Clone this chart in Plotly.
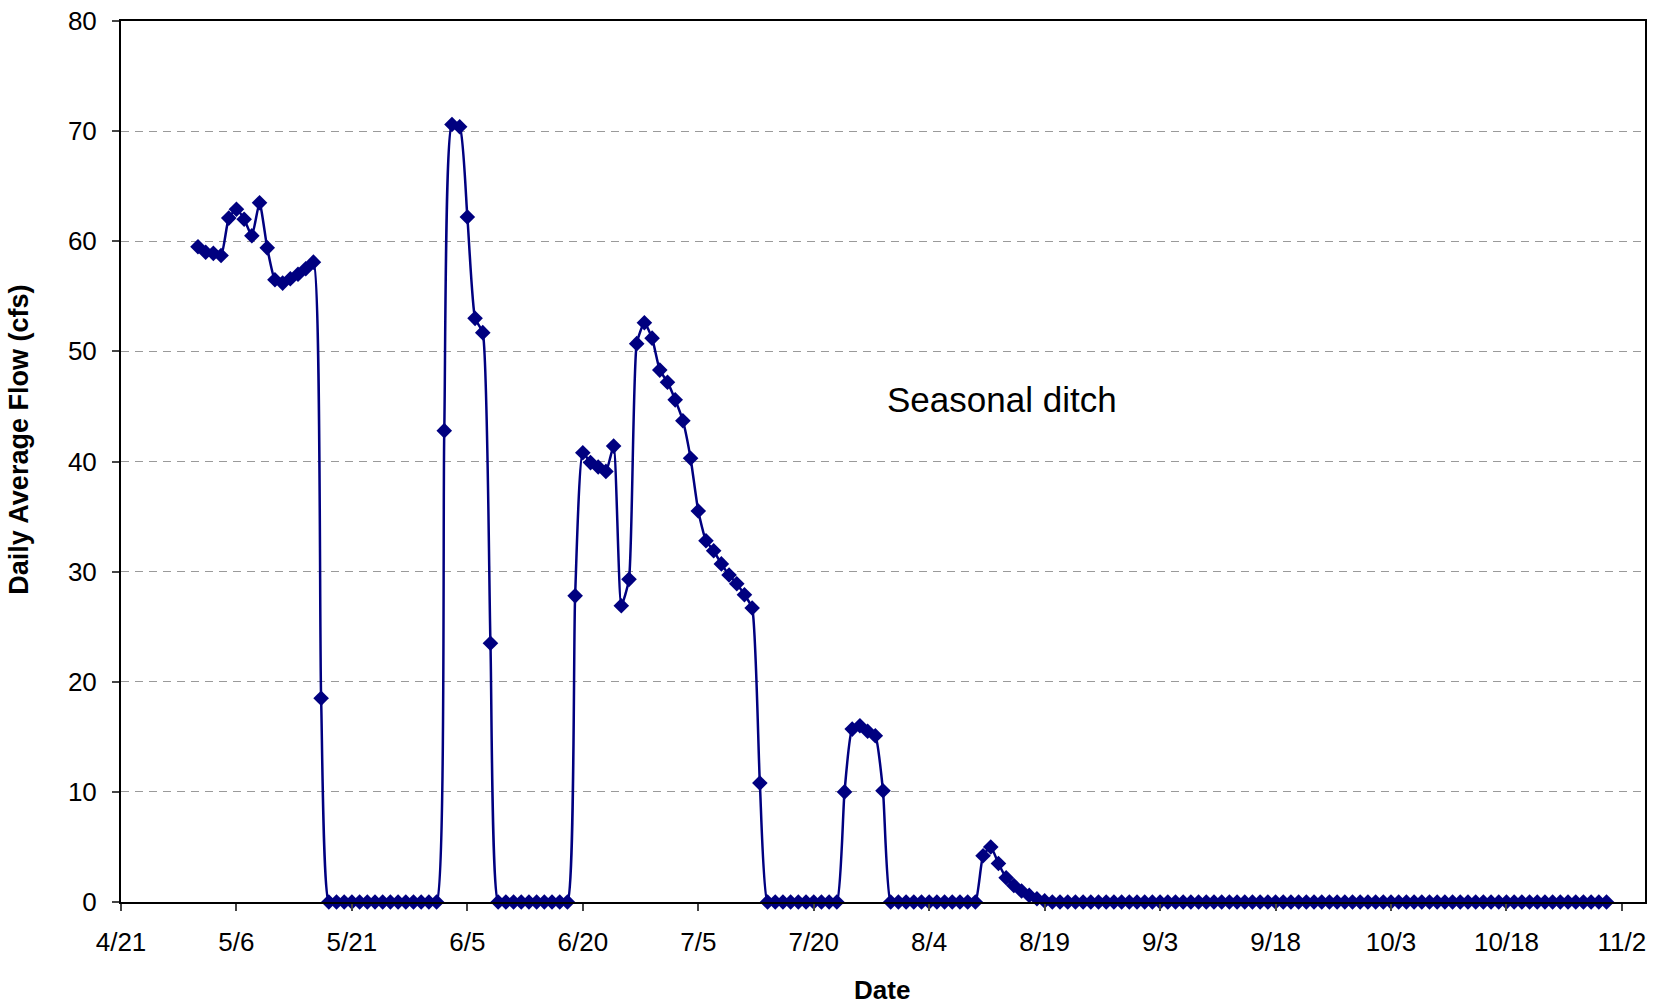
import pandas as pd
import plotly.graph_objects as go

# Daily dates from 5/1 to 10/31
start_date = "2007-05-01"
end_date = "2007-10-31"
dates = pd.date_range(start_date, end_date, freq="D")

flow_cfs = [
    # 5/1 - 5/16
    59.5, 59.0, 58.9, 58.7, 62.1, 62.9, 62.0, 60.5, 63.5, 59.4, 56.5, 56.2, 56.6, 57.0, 57.5, 58.1,
    # 5/17
    18.5,
    # 5/18 - 6/1
    0, 0, 0, 0, 0, 0, 0, 0, 0, 0, 0, 0, 0, 0, 0,
    # 6/2 - 6/8
    42.8, 70.6, 70.4, 62.2, 53.0, 51.7, 23.5,
    # 6/9 - 6/18
    0, 0, 0, 0, 0, 0, 0, 0, 0, 0,
    # 6/19 - 7/13
    27.8, 40.8, 39.9, 39.5, 39.1, 41.4, 26.9, 29.3, 50.7, 52.6, 51.2, 48.3, 47.2,
    45.6, 43.7, 40.3, 35.5, 32.8, 31.9, 30.7, 29.7, 28.9, 27.9, 26.7, 10.8,
    # 7/14 - 7/23
    0, 0, 0, 0, 0, 0, 0, 0, 0, 0,
    # 7/24 - 7/29
    10.0, 15.7, 16.0, 15.5, 15.1, 10.1,
    # 7/30 - 8/10
    0, 0, 0, 0, 0, 0, 0, 0, 0, 0, 0, 0,
    # 8/11 - 8/19
    4.2, 5.0, 3.5, 2.2, 1.5, 1.0, 0.6, 0.3, 0.1,
    # 8/20 - 10/31
    0, 0, 0, 0, 0, 0, 0, 0, 0, 0, 0, 0,
    0, 0, 0, 0, 0, 0, 0, 0, 0, 0, 0, 0, 0, 0, 0, 0, 0, 0, 0, 0, 0, 0, 0, 0, 0, 0, 0, 0, 0, 0,
    0, 0, 0, 0, 0, 0, 0, 0, 0, 0, 0, 0, 0, 0, 0, 0, 0, 0, 0, 0, 0, 0, 0, 0, 0, 0, 0, 0, 0, 0, 0,
]

y_ticks = [0, 10, 20, 30, 40, 50, 60, 70, 80]
x_range = ["2007-04-21", "2007-11-05"]
tick_start = "2007-04-21"

series_name = "Seasonal ditch"
x_title = "Date"
y_title = "Daily Average Flow (cfs)"

FONT = "Liberation Sans, Arial, sans-serif"
NAVY = "#000080"

fig = go.Figure()
fig.add_trace(go.Scatter(
    x=dates, y=flow_cfs, mode="lines+markers",
    line=dict(color=NAVY, width=2.5, shape="spline", smoothing=0.5),
    marker=dict(symbol="diamond", size=12, color=NAVY),
    cliponaxis=False, showlegend=False, name=series_name,
))

fig.update_layout(
    width=1653, height=1005,
    margin=dict(l=121, r=6, t=15, b=103),
    plot_bgcolor="white", paper_bgcolor="white",
    font=dict(family=FONT, size=26, color="black"),
    xaxis=dict(
        type="date", range=x_range, tick0=tick_start, dtick=15 * 86400000,
        tickformat="%-m/%-d", ticks="outside", ticklen=7, tickwidth=1.5, tickcolor="#444",
        showline=True, linecolor="black", linewidth=2, mirror=True,
        showgrid=False, zeroline=False, ticklabelstandoff=9, ticklabeloverflow="allow",
        tickfont=dict(family=FONT, size=26),
    ),
    yaxis=dict(
        range=[0, 80], tickvals=y_ticks, ticks="outside", ticklen=7, tickwidth=1.5, tickcolor="#444",
        showline=True, linecolor="black", linewidth=2, mirror=True,
        showgrid=True, gridcolor="#9a9a9a", gridwidth=1, griddash="8px,6px",
        zeroline=False, ticklabelstandoff=10, ticklabeloverflow="allow",
        tickfont=dict(family=FONT, size=26),
    ),
    annotations=[
        dict(text=series_name, xref="paper", yref="paper", x=0.578, y=0.570,
             xanchor="center", yanchor="middle", showarrow=False,
             font=dict(family=FONT, size=35, color="black")),
        dict(text=f"<b>{x_title}</b>", xref="paper", yref="paper", x=0.4993, y=0,
             yshift=-88, xanchor="center", yanchor="middle", showarrow=False,
             font=dict(family=FONT, size=26, color="black")),
        dict(text=f"<b>{y_title}</b>", xref="paper", yref="paper", x=-0.0668, y=0.525,
             xanchor="center", yanchor="middle", textangle=-90, showarrow=False,
             font=dict(family=FONT, size=27, color="black")),
    ],
)

fig.write_html(
    "out.html",
    config={"displayModeBar": False},
    post_script="document.body.style.margin='0';document.body.style.overflow='hidden';",
)
